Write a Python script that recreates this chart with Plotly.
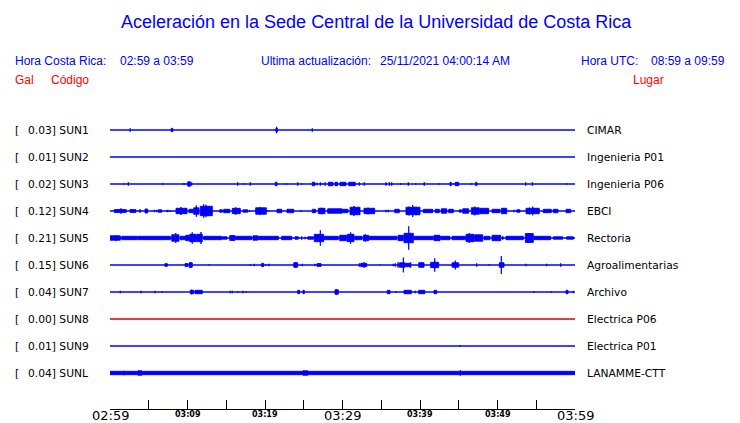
import plotly.graph_objects as go

# ---------------- data ----------------
codes = ["SUN1", "SUN2", "SUN3", "SUN4", "SUN5", "SUN6", "SUN7", "SUN8", "SUN9", "SUNL"]
gal = ["0.03", "0.01", "0.02", "0.12", "0.21", "0.15", "0.04", "0.00", "0.01", "0.04"]
places = ["CIMAR", "Ingenieria P01", "Ingenieria P06", "EBCI", "Rectoria",
          "Agroalimentarias", "Archivo", "Electrica P06", "Electrica P01", "LANAMME-CTT"]
trace_colors = ["#0000ff"] * 7 + ["#d00000"] + ["#0000ff"] * 2

# minutes after 02:59 -> tick labels
tick_minutes = [0, 5, 10, 15, 20, 25, 30, 35, 40, 45, 50, 55, 60]
tick_labels = {0: "02:59", 10: "03:09", 20: "03:19", 30: "03:29", 40: "03:39", 50: "03:49", 60: "03:59"}
major_labels = ["02:59", "03:29", "03:59"]

# activity bursts read from the record: (start minute, end minute, half amplitude)
sun1 = [(2.6, 2.6, 2), (7.9, 8.1, 2), (21.5, 21.5, 3.5), (21.4, 21.6, 2), (26.1, 26.1, 2)]
sun2 = []
sun3 = [(1.85, 1.85, 1), (2.36, 2.36, 2), (6.8, 6.8, 1), (9.51, 9.51, 1), (9.68, 9.68, 1),
        (10.03, 10.37, 2.5), (10.54, 10.54, 2), (16.48, 16.48, 2), (17.33, 17.33, 1),
        (18.1, 18.1, 2), (21.33, 21.55, 2), (22.75, 22.75, 1), (24.22, 24.22, 2),
        (24.74, 24.74, 1), (26.1, 26.45, 2), (26.71, 26.71, 1.5), (27.14, 27.14, 2),
        (27.39, 27.39, 1), (27.74, 27.74, 2), (28.17, 28.77, 2), (29.03, 29.38, 2),
        (29.68, 30.45, 2), (30.8, 31.65, 2), (32.17, 32.17, 2), (32.81, 32.81, 2),
        (35.61, 35.61, 2), (36.04, 36.04, 2), (36.35, 36.35, 2), (37.51, 37.51, 1),
        (38.49, 38.49, 2), (39.45, 39.45, 1), (40.55, 40.55, 2), (42.49, 42.49, 1),
        (43.87, 44.04, 2), (44.39, 44.39, 1), (44.55, 44.99, 2), (46.67, 46.67, 1),
        (47.19, 47.35, 2), (53.64, 53.64, 2), (54.49, 54.49, 2), (58.93, 58.93, 1)]
sun4 = [(0.55, 2.1, 1.7), (1.03, 1.03, 2.3), (1.42, 1.42, 3), (2.58, 3.35, 1.7),
        (3.78, 3.96, 1.5), (4.52, 4.86, 2.3), (5.72, 5.72, 1.5), (6.03, 6.03, 1.5),
        (6.23, 6.67, 1.5), (7.32, 7.52, 1), (7.78, 7.78, 1), (8.52, 9.94, 3),
        (9.16, 9.16, 4.3), (10.19, 10.71, 2), (10.8, 11.48, 3.5), (11.14, 11.14, 6),
        (11.65, 13.2, 5), (12.09, 12.09, 7), (12.39, 12.39, 6.5), (12.77, 12.77, 4.5),
        (14.15, 14.49, 1.5), (14.67, 15.45, 2), (15.78, 16.81, 3), (16.22, 16.22, 4),
        (17.16, 17.77, 1.5), (18.03, 18.03, 1), (18.8, 20.17, 3.5), (19.39, 19.39, 4.3),
        (20.35, 20.35, 1), (21.55, 22.15, 2), (22.84, 23.7, 2), (24.65, 24.65, 1),
        (26.1, 26.54, 2), (26.88, 27.74, 3), (27.32, 27.32, 3.5), (28.09, 29.9, 2.5),
        (29.68, 30.71, 2), (30.97, 32.26, 4), (31.48, 31.48, 5.3), (32.77, 34.15, 3),
        (33.29, 33.29, 3.7), (35.61, 35.61, 1.5), (35.91, 35.91, 1.5), (36.74, 37.33, 2),
        (38.19, 40.0, 4), (38.58, 38.58, 4.7), (39.06, 39.06, 6.3), (39.48, 39.48, 4.5),
        (40.43, 41.64, 2), (41.97, 42.49, 2), (42.75, 43.45, 2.5), (43.7, 44.3, 2),
        (45.07, 45.33, 1.5), (45.51, 46.28, 2.5), (46.62, 47.65, 3.5), (47.06, 47.06, 4.7),
        (47.74, 48.86, 3), (49.29, 50.32, 2), (50.49, 51.19, 3), (52.13, 52.13, 1.5),
        (52.48, 52.9, 1.5), (53.68, 55.39, 3), (54.13, 54.13, 3.7), (54.54, 54.54, 4.7),
        (55.91, 56.94, 2), (57.2, 57.81, 2), (58.84, 59.45, 2)]
sun5 = [(0.0, 1.33, 2.5), (0.74, 0.74, 3.3), (1.51, 3.48, 2), (3.57, 7.78, 2),
        (7.96, 8.9, 3.5), (8.48, 8.48, 5.3), (9.07, 9.68, 2), (9.77, 10.19, 3),
        (10.28, 11.14, 4), (10.61, 10.61, 6), (11.23, 11.91, 4), (11.74, 11.74, 6.3),
        (12.09, 14.41, 2), (14.49, 15.1, 1.5), (15.45, 16.13, 2.7), (15.78, 15.78, 3),
        (16.22, 18.28, 2), (18.45, 19.06, 2.5), (19.14, 21.72, 2), (22.15, 23.45, 2),
        (23.87, 24.3, 1.5), (24.74, 24.74, 2), (25.16, 25.16, 1.5), (25.51, 26.28, 1.5),
        (26.36, 27.57, 4), (27.14, 27.14, 8), (27.65, 29.46, 2), (29.64, 30.54, 3),
        (30.62, 31.48, 4), (31.05, 31.05, 6), (31.57, 32.52, 2), (32.68, 33.38, 3),
        (32.94, 32.94, 4), (33.46, 36.99, 2), (37.16, 37.85, 3), (37.94, 39.14, 5),
        (38.54, 38.54, 12), (39.23, 41.72, 2), (41.81, 42.58, 3), (42.67, 43.87, 2),
        (44.13, 45.85, 2), (45.94, 46.97, 4), (46.36, 46.36, 5.3), (47.06, 48.09, 3.5),
        (48.26, 49.03, 2), (49.29, 50.41, 3), (50.58, 50.75, 1.5), (51.1, 53.33, 2),
        (53.59, 54.62, 4.7), (54.03, 54.03, 5), (54.71, 56.86, 2), (57.2, 58.41, 1.5),
        (58.93, 59.78, 1.5)]
sun6 = [(7.08, 7.43, 1.5), (7.17, 7.17, 2.3), (9.68, 10.03, 1.7), (10.19, 10.62, 2.5),
        (10.41, 10.41, 3.3), (12.81, 12.81, 1), (18.1, 18.1, 1), (18.62, 18.62, 1.5),
        (19.57, 19.83, 2), (20.09, 20.09, 1), (20.52, 20.52, 1.5), (23.7, 24.22, 2.5),
        (23.96, 23.96, 3.3), (24.81, 24.81, 1.5), (26.45, 26.45, 1.5), (26.71, 27.23, 1.7),
        (32.17, 32.17, 2), (32.35, 33.12, 2), (32.77, 32.77, 3), (34.84, 34.84, 0.7),
        (36.55, 36.55, 1.5), (36.81, 36.81, 2), (37.16, 37.16, 3), (37.33, 38.1, 2.5),
        (37.85, 37.85, 7.7), (38.19, 38.71, 2), (38.8, 38.8, 3), (39.83, 40.52, 2.5),
        (40.17, 40.17, 3), (41.38, 42.41, 3), (41.9, 41.9, 7), (44.13, 44.99, 2.5),
        (44.55, 44.55, 4.7), (47.32, 47.32, 2), (48.94, 48.94, 1), (50.23, 50.84, 2.5),
        (50.49, 50.49, 9.3), (53.68, 53.68, 1.5), (56.35, 56.35, 1.5), (58.15, 58.15, 2)]
sun7 = [(1.33, 1.33, 1.5), (4.0, 4.0, 1.5), (5.81, 5.81, 1.5), (6.75, 6.75, 1),
        (10.36, 10.79, 2), (10.54, 10.54, 2.7), (10.97, 11.91, 2), (15.52, 15.52, 1.5),
        (15.78, 15.78, 1.5), (16.48, 16.48, 1), (17.16, 17.16, 1.5), (17.59, 17.59, 1),
        (24.22, 24.46, 2), (24.9, 25.07, 2), (29.03, 29.46, 2.5), (29.2, 29.2, 3),
        (35.78, 36.13, 2), (36.9, 36.9, 1), (37.94, 38.88, 2), (39.39, 39.39, 1.5),
        (39.83, 40.61, 2), (41.81, 42.15, 2), (54.71, 54.71, 1), (56.94, 56.94, 1),
        (58.84, 59.1, 2), (59.78, 59.78, 1.5)]
sun8 = []
sun9 = [(45.16, 45.16, 1)]
sunl = [(0.0, 60.0, 2), (1.8, 1.8, 2.5), (3.6, 4.1, 2.5), (24.9, 25.5, 2.5), (45.2, 45.2, 3)]
events = [sun1, sun2, sun3, sun4, sun5, sun6, sun7, sun8, sun9, sunl]

# ---------------- figure ----------------
W, H = 740, 423
ML, MR, MT, MB = 110, 165, 100, 14
ROW_PX = 27.0
plot_h = H - MT - MB

fig = go.Figure()
for i, (code, evs, col) in enumerate(zip(codes, events, trace_colors)):
    y0 = -i
    fig.add_trace(go.Scatter(x=[0, 60], y=[y0, y0], mode="lines",
                             line=dict(color=col, width=1.3), hoverinfo="skip",
                             showlegend=False))
    if evs:
        xs, ys = [], []
        for s, e, a in evs:
            d = (a - 0.3) / ROW_PX
            xs += [s, e, e, s, s, None]
            ys += [y0 - d, y0 - d, y0 + d, y0 + d, y0 - d, None]
        fig.add_trace(go.Scatter(x=xs, y=ys, mode="lines", fill="toself",
                                 fillcolor=col, line=dict(color=col, width=0.9),
                                 hoverinfo="skip", showlegend=False))

fig.update_xaxes(range=[0, 60], showline=True, linecolor="black", linewidth=1,
                 ticks="inside", ticklen=9, tickcolor="black", tickwidth=1,
                 tickvals=tick_minutes, showticklabels=False, showgrid=False,
                 zeroline=False, fixedrange=True)
y_top = 30 / ROW_PX
y_bot = -(len(codes) - 1) - 36 / ROW_PX
fig.update_yaxes(range=[y_bot, y_top], visible=False, fixedrange=True)

ann = []
BLUE = "#0000ff"
RED = "#ff0000"
HFONT = "Liberation Sans, Arial, sans-serif"
DFONT = "DejaVu Sans, sans-serif"


def px_x(px):
    return (px - ML) / (W - ML - MR)


def px_y(py):
    return (H - MB - py) / plot_h


def text(s, x, y, size, color, font=HFONT, anchor="left", **kw):
    ann.append(dict(text=s, x=px_x(x), y=px_y(y), xref="paper", yref="paper",
                    xanchor=anchor, yanchor="middle", showarrow=False,
                    font=dict(family=font, size=size, color=color), borderpad=0, **kw))


text("Aceleración en la Sede Central de la Universidad de Costa Rica", 376, 22, 18, BLUE, anchor="center")
text("Hora Costa Rica:", 14, 61, 12, BLUE)
text("02:59 a 03:59", 119, 61, 12, BLUE)
text("Ultima actualización:", 260, 61, 12, BLUE)
text("25/11/2021 04:00:14 AM", 379, 61, 12, BLUE)
text("Hora UTC:", 580, 61, 12, BLUE)
text("08:59 a 09:59", 650, 61, 12, BLUE)
text("Gal", 14, 80, 12, RED)
text("Código", 50, 80, 12, RED)
text("Lugar", 632, 80, 12, RED)

for i, (g, code, place) in enumerate(zip(gal, codes, places)):
    ry = 130 + i * ROW_PX
    text("[", 14, ry, 10.7, "black", font=DFONT)
    text(f"{g}] {code}", 27, ry, 10.7, "black", font=DFONT)
    text(place, 586, ry, 10.7, "black", font=DFONT)

for m, lab in tick_labels.items():
    big = lab in major_labels
    ann.append(dict(text=lab if big else f"<b>{lab}</b>", x=m, xref="x",
                    y=px_y(415.5 if big else 414.5), yref="paper",
                    xanchor="center", yanchor="middle", showarrow=False,
                    font=dict(family=DFONT, size=13 if big else 8, color="black"),
                    borderpad=0))

fig.update_layout(width=W, height=H, margin=dict(l=ML, r=MR, t=MT, b=MB),
                  plot_bgcolor="white", paper_bgcolor="white", annotations=ann,
                  showlegend=False)
fig.write_html("out.html", config={"displayModeBar": False},
               post_script="document.body.style.margin='0px';document.body.style.overflow='hidden';")
